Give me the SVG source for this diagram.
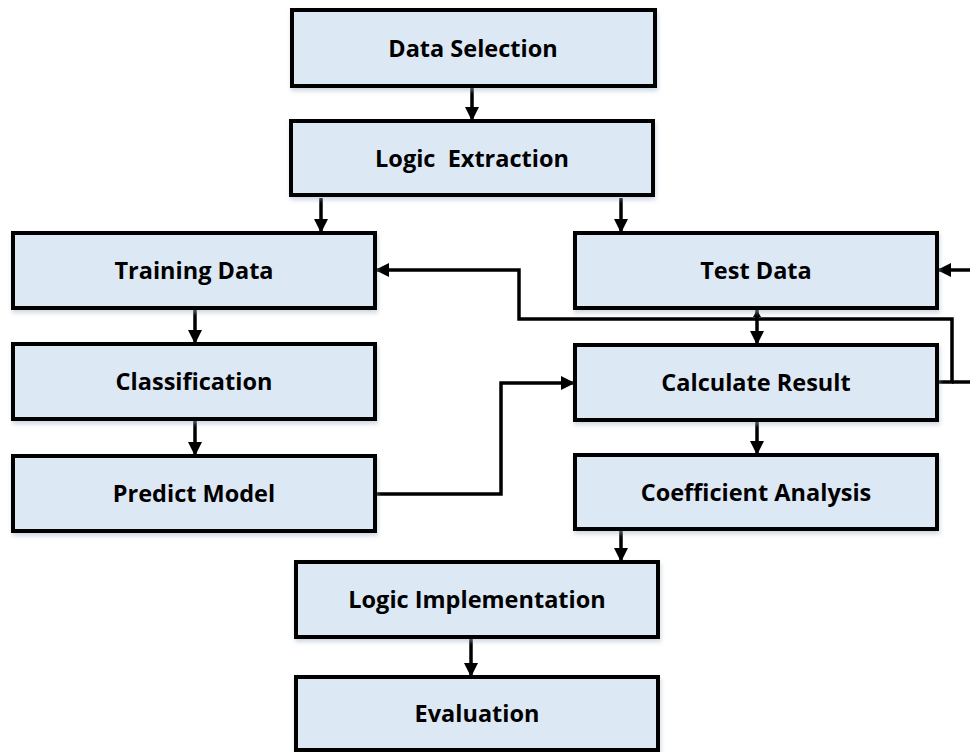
<svg xmlns="http://www.w3.org/2000/svg" width="970" height="752" viewBox="0 0 970 752">
<defs>
<marker id="arr" markerUnits="userSpaceOnUse" markerWidth="16" markerHeight="16" refX="14" refY="7" orient="auto">
<path d="M0,0 L14,7 L0,14 Z" fill="#000"/>
</marker>
<marker id="arrs" markerUnits="userSpaceOnUse" markerWidth="10" markerHeight="10" refX="7" refY="4" orient="auto-start-reverse">
<path d="M0,0 L7,4 L0,8 Z" fill="#000"/>
</marker>
<filter id="sh" x="-5%" y="-10%" width="110%" height="130%">
<feDropShadow dx="1" dy="3" stdDeviation="2" flood-color="#9fb2c8" flood-opacity="0.5"/>
</filter>
</defs>
<style>
.box{fill:#dde8f5;stroke:#000;stroke-width:4;filter:url(#sh)}
.lbl{font-family:"Open Sans","Liberation Sans",sans-serif;font-weight:bold;font-size:23.5px;fill:#000;text-anchor:middle;white-space:pre}
.c{fill:none;stroke:#000;stroke-width:3.5}
</style>
<g id="connectors">
<path class="c" d="M472,87 V121" marker-end="url(#arr)"/>
<path class="c" d="M321,198 V233" marker-end="url(#arr)"/>
<path class="c" d="M621,198 V233" marker-end="url(#arr)"/>
<path class="c" d="M195,308 V344" marker-end="url(#arr)"/>
<path class="c" d="M195,419 V456" marker-end="url(#arr)"/>
<path class="c" d="M757,420 V455" marker-end="url(#arr)"/>
<path class="c" d="M621,529 V562" marker-end="url(#arr)"/>
<path class="c" d="M471,637 V677" marker-end="url(#arr)"/>
<path class="c" d="M375,494 H501 V383 H575" marker-end="url(#arr)"/>
<path class="c" d="M937,382 H952 V319 H519 V270 H375" marker-end="url(#arr)"/>
<path class="c" d="M970,382 H952"/>
<path class="c" d="M970,270 H937" marker-end="url(#arr)"/>
<path class="c" d="M757,310 V345" marker-start="url(#arrs)" marker-end="url(#arr)"/>
</g>
<g id="data-selection"><rect class="box" x="292" y="10" width="363" height="76"/><text class="lbl" x="473" y="56.5">Data Selection</text></g>
<g id="logic-extraction"><rect class="box" x="291" y="121" width="362" height="74"/><text class="lbl" x="472" y="166.5" xml:space="preserve">Logic  Extraction</text></g>
<g id="training-data"><rect class="box" x="13" y="233" width="362" height="75"/><text class="lbl" x="194" y="279">Training Data</text></g>
<g id="classification"><rect class="box" x="13" y="344" width="362" height="75"/><text class="lbl" x="194" y="390">Classification</text></g>
<g id="predict-model"><rect class="box" x="13" y="456" width="362" height="75"/><text class="lbl" x="194" y="502">Predict Model</text></g>
<g id="test-data"><rect class="box" x="575" y="233" width="362" height="75"/><text class="lbl" x="756" y="279">Test Data</text></g>
<g id="calculate-result"><rect class="box" x="575" y="345" width="362" height="75"/><text class="lbl" x="756" y="391">Calculate Result</text></g>
<g id="coefficient-analysis"><rect class="box" x="575" y="455" width="362" height="74"/><text class="lbl" x="756" y="500.5">Coefficient Analysis</text></g>
<g id="logic-implementation"><rect class="box" x="296" y="562" width="362" height="75"/><text class="lbl" x="477" y="608">Logic Implementation</text></g>
<g id="evaluation"><rect class="box" x="296" y="677" width="362" height="73"/><text class="lbl" x="477" y="722">Evaluation</text></g>
</svg>
